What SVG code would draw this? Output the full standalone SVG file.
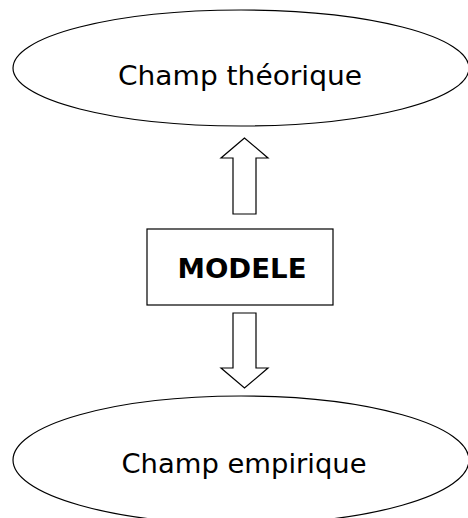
<svg xmlns="http://www.w3.org/2000/svg" width="468" height="518" viewBox="0 0 468 518">
<style>
.sh{fill:#fff;stroke:#000;stroke-width:1.2}
.t{font-family:"DejaVu Sans",Verdana,sans-serif;font-size:26px;fill:#000;text-anchor:middle}
.b{font-family:"DejaVu Sans",Verdana,sans-serif;font-size:27px;font-weight:bold;fill:#000;text-anchor:middle}
</style>
<rect width="468" height="518" fill="#fff"/>
<g id="theorique">
<ellipse class="sh" cx="241" cy="68" rx="228" ry="58"/>
<text class="t" x="240" y="85" textLength="244" lengthAdjust="spacingAndGlyphs">Champ théorique</text>
</g>
<g id="modele">
<rect class="sh" x="147" y="229" width="186" height="76"/>
<text class="b" x="242" y="278" textLength="129" lengthAdjust="spacingAndGlyphs">MODELE</text>
</g>
<g id="empirique">
<ellipse class="sh" cx="241" cy="460" rx="228" ry="64"/>
<text class="t" x="244" y="473" textLength="245" lengthAdjust="spacingAndGlyphs">Champ empirique</text>
</g>
<g id="connectors">
<polygon class="sh" points="244.5,138 221,158 233,158 233,214 256,214 256,158 268,158"/>
<polygon class="sh" points="233,313 256,313 256,368 268,368 244.5,388 221,368 233,368"/>
</g>
</svg>
